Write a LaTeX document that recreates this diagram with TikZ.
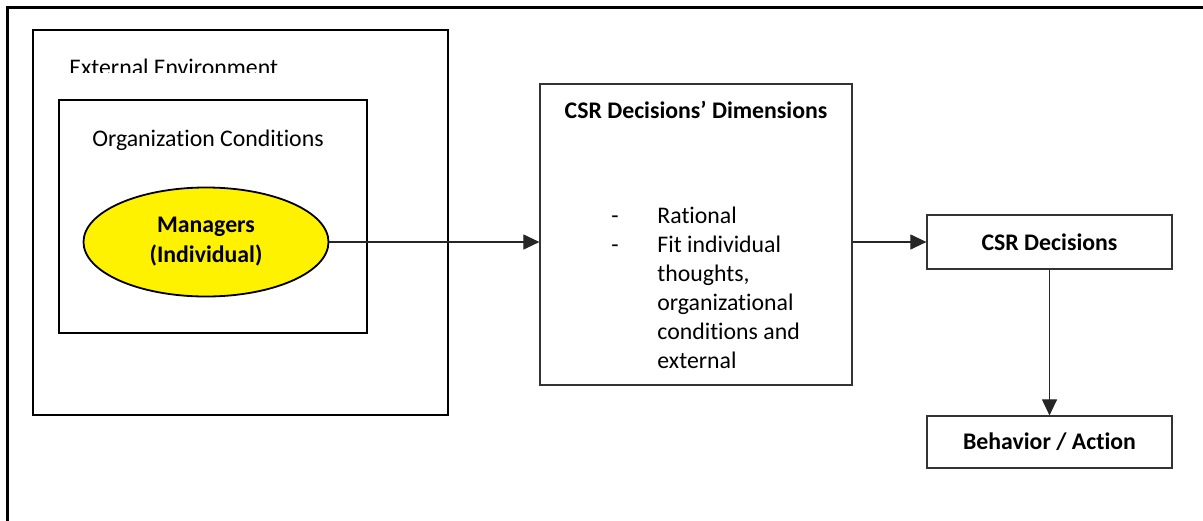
\documentclass[tikz,border=0pt]{standalone}
\usepackage{fontspec}
\setmainfont{Carlito}[Ligatures={NoCommon,NoContextual}, RawFeature={-liga;-clig}]
\usetikzlibrary{arrows.meta,shapes.geometric,calc}
\begin{document}
\begin{tikzpicture}[x=0.5pt,y=-0.5pt,
  every node/.style={font=\fontsize{11.9}{14.5}\selectfont, inner sep=0pt},
  framebox/.style={draw=black, line width=1.25pt},
  orgbox/.style={draw=black, line width=1.1pt},
  plainbox/.style={draw=black!80, line width=0.6pt, rectangle},
  link/.style={draw=black!85, line width=0.55pt, -{Triangle[length=8pt,width=7.5pt]}}]
\useasboundingbox (0,0) rectangle (1203,520);
% page frame: top and left edges only
\draw[line width=1.1pt] (7.5,530) -- (7.5,7.5) -- (1210,7.5);

% external environment and organization boxes
\node[framebox, rectangle, minimum width=207.5pt, minimum height=192.5pt] (ext) at (240.5,222.5) {};
\begin{scope}
  \clip (60,40) rectangle (300,72.5);
  \node[anchor=base west] (extlbl) at (69,75) {External Environment};
\end{scope}
\node[orgbox, rectangle, minimum width=154pt, minimum height=116.5pt] (org) at (213,216.5) {};
\node (orglbl) at (208,140) {Organization Conditions};

% managers ellipse
\node[ellipse, draw=black, line width=0.9pt, fill=yellow, minimum width=122.5pt, minimum height=54.5pt,
      align=center, font=\fontsize{11.9}{15}\selectfont\bfseries] (man) at (206,242) {Managers\\(Individual)};

% decision dimensions box
\node[plainbox, minimum width=156pt, minimum height=150.5pt] (dim) at (696,234.5) {};
\node[font=\fontsize{11.9}{14.5}\selectfont\bfseries] (dimttl) at (696,110) {CSR Decisions’ Dimensions};
\node[anchor=base west] (dimlist) at (611,223) {%
  \begin{tabular}[t]{@{}p{23pt}@{}l@{}}
  - & Rational\\
  - & Fit individual\\
    & thoughts,\\
    & organizational\\
    & conditions and\\
    & external
  \end{tabular}};

% decision and action boxes
\node[plainbox, minimum width=122.5pt, minimum height=27pt, font=\fontsize{11.9}{14.5}\selectfont\bfseries] (dec) at (1049.5,242) {CSR Decisions};
\node[plainbox, minimum width=122.5pt, minimum height=26pt, font=\fontsize{11.9}{14.5}\selectfont\bfseries] (beh) at (1049.5,442) {Behavior / Action};

% connectors
\draw[link] (man.east) -- (man.east -| dim.west);
\draw[link] (dim.east |- dec.west) -- (dec.west);
\draw[link] (dec.south) -- (beh.north);
\end{tikzpicture}
\end{document}
